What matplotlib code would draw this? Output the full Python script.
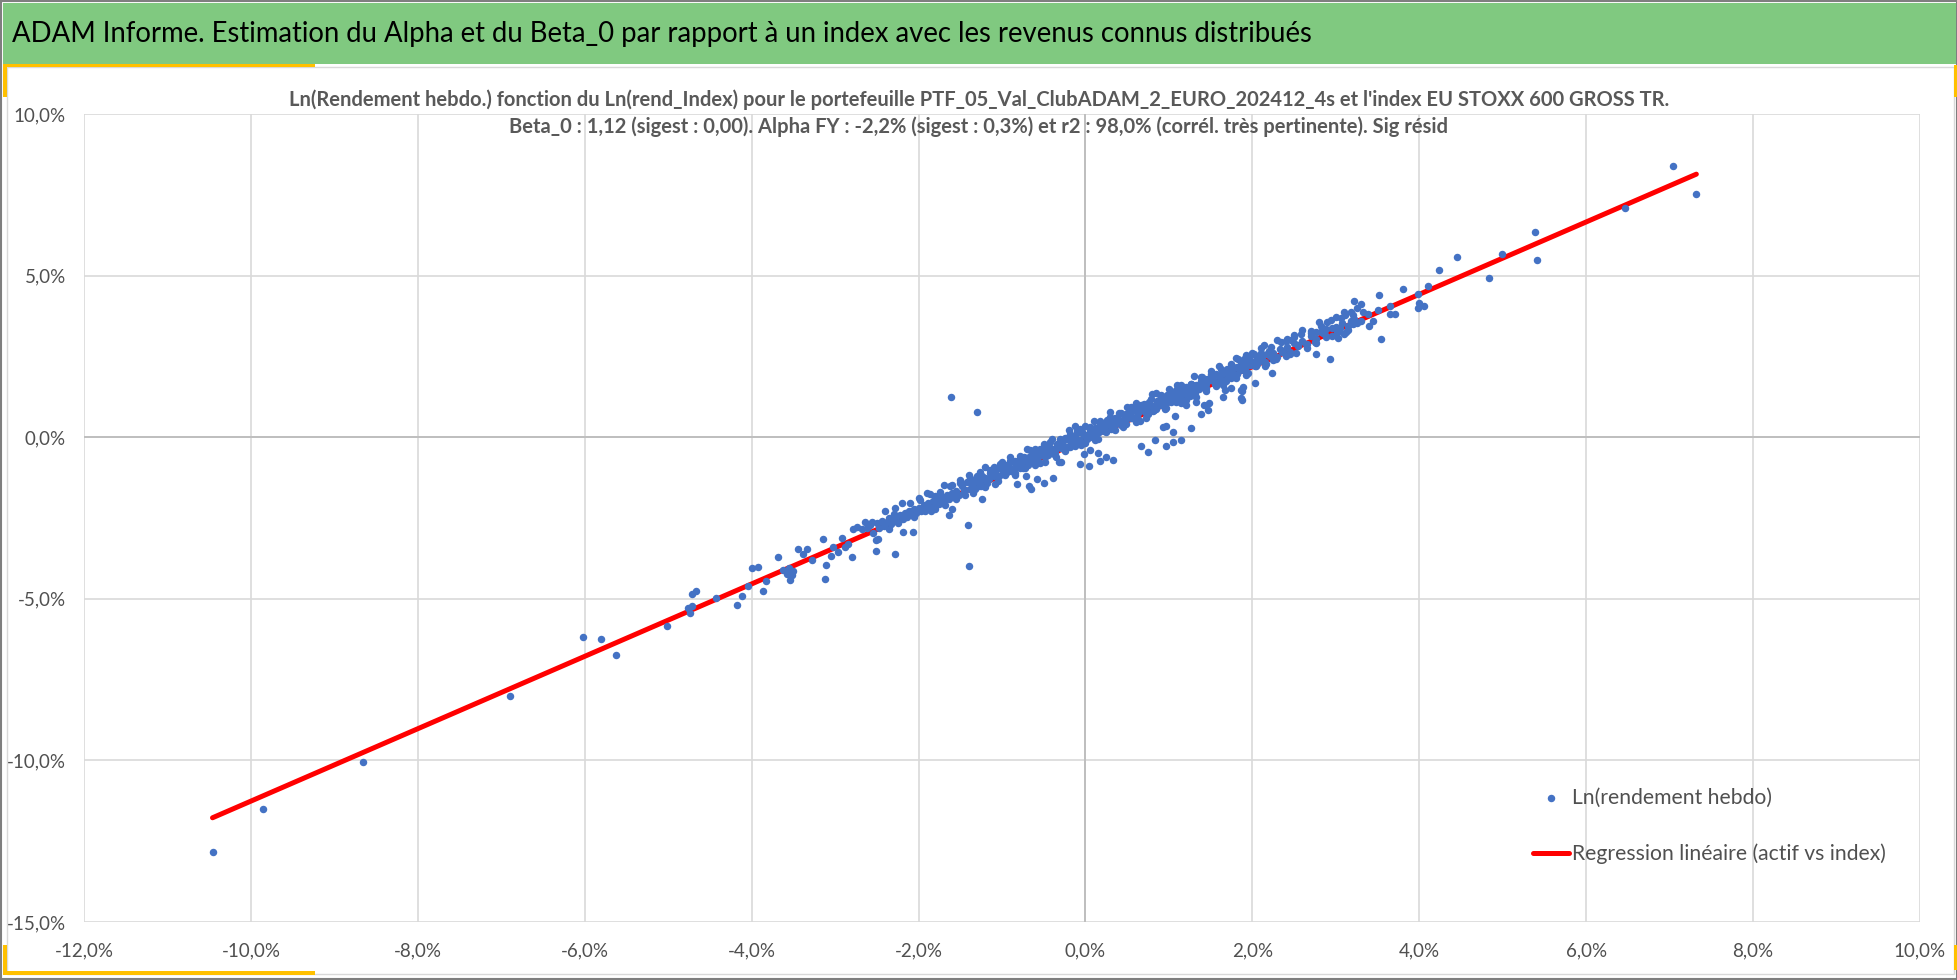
import numpy as np
import matplotlib
matplotlib.use("Agg")
import matplotlib.pyplot as plt
from matplotlib.patches import Rectangle
from matplotlib.ticker import FuncFormatter, MultipleLocator

plt.rcParams['font.family'] = ['Lato', 'DejaVu Sans']

W, H = 1958, 980

# weekly log returns (%): index (x) vs portfolio (y)
# dense core of the cloud
core_pts = [
    (-1.48, -1.51), (-1.44, -1.64), (-1.40, -1.35), (-1.36, -1.47), (-1.32, -1.36),
    (-1.28, -1.50), (-1.24, -1.20), (-1.20, -1.27), (-1.16, -1.30), (-1.12, -1.08),
    (-1.08, -1.06), (-1.04, -1.20), (-1.00, -0.90), (-0.96, -1.03), (-0.92, -0.91),
    (-0.88, -1.06), (-0.84, -0.75), (-0.80, -0.83), (-0.76, -0.85), (-0.72, -0.64),
    (-0.68, -0.61), (-0.64, -0.75), (-0.60, -0.45), (-0.56, -0.58), (-0.52, -0.46),
    (-0.48, -0.61), (-0.44, -0.30), (-0.40, -0.38), (-0.36, -0.40), (-0.32, -0.19),
    (-0.28, -0.16), (-0.24, -0.30), (-0.20, 0.00), (-0.16, -0.13), (-0.12, -0.01),
    (-0.08, -0.16), (-0.04, 0.15), (0.00, 0.07), (0.04, 0.05), (0.08, 0.26),
    (0.12, 0.28), (0.16, 0.15), (0.20, 0.44), (0.24, 0.32), (0.28, 0.43),
    (0.32, 0.29), (0.36, 0.59), (0.40, 0.52), (0.44, 0.49), (0.48, 0.71),
    (0.52, 0.73), (0.56, 0.60), (0.60, 0.89), (0.64, 0.77), (0.68, 0.88),
    (0.72, 0.74), (0.76, 1.04), (0.80, 0.97), (0.84, 0.94), (0.88, 1.16),
    (0.92, 1.18), (0.96, 1.05), (1.00, 1.34), (1.04, 1.22), (1.08, 1.33),
    (1.12, 1.18), (1.16, 1.49), (1.20, 1.41), (1.24, 1.39), (1.28, 1.60),
    (1.32, 1.63), (1.36, 1.49), (1.40, 1.79), (1.44, 1.66), (1.48, 1.78),
    (-1.46, -1.62), (-1.42, -1.39), (-1.38, -1.60), (-1.34, -1.40), (-1.30, -1.21),
    (-1.26, -1.42), (-1.22, -1.29), (-1.18, -1.41), (-1.14, -1.12), (-1.10, -1.19),
    (-1.06, -1.17), (-1.02, -0.94), (-0.98, -1.15), (-0.94, -0.95), (-0.90, -0.76),
    (-0.86, -0.97), (-0.82, -0.84), (-0.78, -0.96), (-0.74, -0.67), (-0.70, -0.74),
    (-0.66, -0.72), (-0.62, -0.49), (-0.58, -0.70), (-0.54, -0.50), (-0.50, -0.31),
    (-0.46, -0.53), (-0.42, -0.39), (-0.38, -0.52), (-0.34, -0.22), (-0.30, -0.30),
    (-0.26, -0.27), (-0.22, -0.05), (-0.18, -0.25), (-0.14, -0.06), (-0.10, 0.14),
    (-0.06, -0.08), (-0.02, 0.06), (0.02, -0.07), (0.06, 0.23), (0.10, 0.15),
    (0.14, 0.18), (0.18, 0.40), (0.22, 0.20), (0.26, 0.39), (0.30, 0.59),
    (0.34, 0.37), (0.38, 0.51), (0.42, 0.38), (0.46, 0.68), (0.50, 0.60),
    (0.54, 0.63), (0.58, 0.85), (0.62, 0.65), (0.66, 0.84), (0.70, 1.03),
    (0.74, 0.82), (0.78, 0.95), (0.82, 0.83), (0.86, 1.12), (0.90, 1.05),
    (0.94, 1.07), (0.98, 1.30), (1.02, 1.09), (1.06, 1.29), (1.10, 1.48),
    (1.14, 1.27), (1.18, 1.40), (1.22, 1.28), (1.26, 1.57), (1.30, 1.50),
    (1.34, 1.52), (1.38, 1.75), (1.42, 1.54), (1.46, 1.74),
]

# wider spread of the band (-2% .. 3.2%)
wide_band_pts = [
    (-1.98, -1.93), (-1.92, -2.28), (-1.86, -1.75), (-1.80, -2.21), (-1.74, -1.70),
    (-1.68, -2.11), (-1.62, -1.50), (-1.56, -1.83), (-1.50, -1.41), (-1.44, -1.78),
    (-1.38, -1.26), (-1.32, -1.61), (-1.26, -1.08), (-1.20, -1.53), (-1.14, -1.03),
    (-1.08, -1.44), (-1.02, -0.83), (-0.96, -1.16), (-0.90, -0.74), (-0.84, -1.11),
    (-0.78, -0.58), (-0.72, -0.94), (-0.66, -0.41), (-0.60, -0.86), (-0.54, -0.36),
    (-0.48, -0.77), (-0.42, -0.16), (-0.36, -0.48), (-0.30, -0.07), (-0.24, -0.44),
    (-0.18, 0.09), (-0.12, -0.26), (-0.06, 0.26), (0.00, -0.19), (0.06, 0.32),
    (0.12, -0.10), (0.18, 0.51), (0.24, 0.19), (0.30, 0.61), (0.36, 0.23),
    (0.42, 0.76), (0.48, 0.41), (0.54, 0.94), (0.60, 0.48), (0.66, 0.99),
    (0.72, 0.58), (0.78, 1.18), (0.84, 0.86), (0.90, 1.28), (0.96, 0.91),
    (1.02, 1.43), (1.08, 1.08), (1.14, 1.61), (1.20, 1.15), (1.26, 1.66),
    (1.32, 1.25), (1.38, 1.86), (1.44, 1.53), (1.50, 1.95), (1.56, 1.58),
    (1.62, 2.10), (1.68, 1.75), (1.74, 2.28), (1.80, 1.83), (1.86, 2.33),
    (1.92, 1.92), (1.98, 2.53), (2.04, 2.21), (2.10, 2.62), (2.16, 2.25),
    (2.22, 2.78), (2.28, 2.42), (2.34, 2.95), (2.40, 2.50), (2.46, 3.01),
    (2.52, 2.59), (2.58, 3.20), (2.64, 2.88), (2.70, 3.29), (2.76, 2.92),
    (2.82, 3.45), (2.88, 3.10), (2.94, 3.62), (3.00, 3.17), (3.06, 3.68),
    (3.12, 3.26), (3.18, 3.87), (3.24, 3.55),
    (-0.99, -1.04), (-0.94, -0.86), (-0.89, -1.05), (-0.84, -0.81), (-0.79, -0.88),
    (-0.74, -0.60), (-0.69, -0.86), (-0.64, -0.62), (-0.59, -0.68), (-0.54, -0.45),
    (-0.49, -0.48), (-0.44, -0.30), (-0.39, -0.49), (-0.34, -0.25), (-0.29, -0.32),
    (-0.24, -0.04), (-0.19, -0.30), (-0.14, -0.06), (-0.09, -0.12), (-0.04, 0.12),
    (0.01, 0.08), (0.06, 0.26), (0.11, 0.07), (0.16, 0.31), (0.21, 0.25),
    (0.26, 0.52), (0.31, 0.26), (0.36, 0.50), (0.41, 0.44), (0.46, 0.68),
    (0.51, 0.64), (0.56, 0.82), (0.61, 0.63), (0.66, 0.87), (0.71, 0.81),
    (0.76, 1.08), (0.81, 0.82), (0.86, 1.06), (0.91, 1.00), (0.96, 1.24),
    (1.01, 1.20), (1.06, 1.38), (1.11, 1.19), (1.16, 1.43), (1.21, 1.37),
    (1.26, 1.64), (1.31, 1.38), (1.36, 1.62), (1.41, 1.56), (1.46, 1.80),
    (1.51, 1.76), (1.56, 1.94), (1.61, 1.75), (1.66, 1.99), (1.71, 1.93),
    (1.76, 2.20), (1.81, 1.94), (1.86, 2.18), (1.91, 2.12), (1.96, 2.36),
]

# outer edges of the band (-2.4% .. 3.3%)
edge_band_pts = [
    (-2.40, -2.29), (-2.35, -2.85), (-2.30, -2.38), (-2.25, -2.64), (-2.20, -2.03),
    (-2.15, -2.39), (-2.10, -2.05), (-2.05, -2.48), (-2.00, -1.88), (-1.95, -2.22),
    (-1.90, -1.73), (-1.85, -2.29), (-1.80, -1.82), (-1.75, -2.08), (-1.70, -1.47),
    (-1.65, -1.83), (-1.60, -1.49), (-1.55, -1.92), (-1.50, -1.32), (-1.45, -1.66),
    (-1.40, -1.17), (-1.35, -1.73), (-1.30, -1.26), (-1.25, -1.52), (-1.20, -0.91),
    (-1.15, -1.27), (-1.10, -0.93), (-1.05, -1.36), (-1.00, -0.76), (-0.95, -1.10),
    (-0.90, -0.61), (-0.85, -1.17), (-0.80, -0.70), (-0.75, -0.96), (-0.70, -0.35),
    (-0.65, -0.71), (-0.60, -0.37), (-0.55, -0.80), (-0.50, -0.20), (-0.45, -0.54),
    (-0.40, -0.05), (-0.35, -0.61), (-0.30, -0.14), (-0.25, -0.40), (-0.20, 0.21),
    (-0.15, -0.15), (-0.10, 0.19), (-0.05, -0.24), (0.00, 0.36), (0.05, 0.02),
    (0.10, 0.51), (0.15, -0.05), (0.20, 0.42), (0.25, 0.16), (0.30, 0.77),
    (0.35, 0.41), (0.40, 0.75), (0.45, 0.32), (0.50, 0.92), (0.55, 0.58),
    (0.60, 1.07), (0.65, 0.51), (0.70, 0.98), (0.75, 0.72), (0.80, 1.33),
    (0.85, 0.97), (0.90, 1.31), (0.95, 0.88), (1.00, 1.48), (1.05, 1.14),
    (1.10, 1.63), (1.15, 1.07), (1.20, 1.54), (1.25, 1.28), (1.30, 1.89),
    (1.35, 1.53), (1.40, 1.87), (1.45, 1.44), (1.50, 2.04), (1.55, 1.70),
    (1.60, 2.19), (1.65, 1.63), (1.70, 2.10), (1.75, 1.84), (1.80, 2.45),
    (1.85, 2.09), (1.90, 2.43), (1.95, 2.00), (2.00, 2.60), (2.05, 2.26),
    (2.10, 2.75), (2.15, 2.19), (2.20, 2.66), (2.25, 2.40), (2.30, 3.01),
    (2.35, 2.65), (2.40, 2.99), (2.45, 2.56), (2.50, 3.16), (2.55, 2.82),
    (2.60, 3.31), (2.65, 2.75), (2.70, 3.22), (2.75, 2.96), (2.80, 3.57),
    (2.85, 3.21), (2.90, 3.55), (2.95, 3.12), (3.00, 3.72), (3.05, 3.38),
    (3.10, 3.87), (3.15, 3.31), (3.20, 3.78), (3.25, 3.52), (3.30, 4.13),
]

# lower part of the band (-2.6% .. -1.5%)
low_band_pts = [
    (-2.62, -2.80), (-2.58, -2.71), (-2.55, -2.95), (-2.50, -2.66), (-2.47, -2.80),
    (-2.44, -2.58), (-2.41, -2.74), (-2.38, -2.62), (-2.35, -2.49), (-2.33, -2.70),
    (-2.30, -2.55), (-2.27, -2.43), (-2.25, -2.62), (-2.22, -2.40), (-2.19, -2.52),
    (-2.16, -2.35), (-2.14, -2.47), (-2.11, -2.28), (-2.08, -2.40), (-2.05, -2.22),
    (-2.03, -2.34), (-2.00, -2.18), (-1.97, -2.29), (-1.94, -2.10), (-1.92, -2.20),
    (-1.89, -2.05), (-1.86, -2.16), (-1.83, -1.98), (-1.80, -2.09), (-1.78, -1.93),
    (-1.75, -2.02), (-1.72, -1.86), (-1.69, -1.97), (-1.66, -1.80), (-1.63, -1.90),
    (-1.60, -1.74), (-1.57, -1.85), (-1.55, -1.68), (-1.52, -1.79),
]

# upper part of the band (1.5% .. 3.4%)
up_band_pts = [
    (1.52, 1.80), (1.55, 1.66), (1.58, 1.93), (1.61, 1.82), (1.64, 1.95),
    (1.67, 1.78), (1.70, 2.03), (1.73, 1.96), (1.76, 2.07), (1.79, 1.92),
    (1.82, 2.17), (1.85, 2.09), (1.88, 2.19), (1.91, 2.05), (1.94, 2.31),
    (1.97, 2.22), (2.00, 2.33), (2.03, 2.20), (2.06, 2.45), (2.09, 2.37),
    (2.12, 2.48), (2.15, 2.32), (2.18, 2.58), (2.21, 2.50), (2.25, 2.60),
    (2.29, 2.47), (2.33, 2.73), (2.37, 2.66), (2.41, 2.80), (2.45, 2.64),
    (2.50, 2.93), (2.55, 2.85), (2.60, 2.99), (2.65, 2.88), (2.70, 3.12),
    (2.76, 3.03), (2.82, 3.25), (2.88, 3.14), (2.95, 3.38), (3.02, 3.30),
    (3.08, 3.52), (3.15, 3.45), (3.22, 3.66), (3.30, 3.58), (3.38, 3.80),
]

# scattered weeks around and off the band
scatter_pts = [
    (-10.46, -12.82), (-9.86, -11.49), (-8.66, -10.06), (-6.90, -8.02),
    (-6.02, -6.19), (-5.80, -6.25), (-5.62, -6.75), (-5.01, -5.85),
    (-4.76, -5.27), (-4.74, -5.45), (-4.72, -4.84), (-4.72, -5.22), (-4.67, -4.76),
    (-4.43, -4.99), (-4.18, -5.19), (-4.11, -4.92), (-4.04, -4.60), (-4.00, -4.06),
    (-3.92, -4.03), (-3.86, -4.76), (-3.83, -4.44), (-3.68, -3.70), (-3.62, -4.10),
    (-3.58, -4.22), (-3.55, -4.05), (-3.54, -4.42), (-3.52, -4.25), (-3.50, -4.15),
    (-3.45, -3.45), (-3.39, -3.60), (-3.34, -3.45), (-3.28, -3.79), (-3.14, -3.16),
    (-3.12, -4.38), (-3.11, -3.94), (-3.05, -3.68), (-3.02, -3.40), (-2.96, -3.55),
    (-2.92, -3.12), (-2.88, -3.40), (-2.85, -3.30), (-2.80, -3.70), (-2.78, -2.83),
    (-2.74, -2.78), (-2.68, -2.83), (-2.64, -2.63), (-2.56, -2.63), (-2.51, -3.19),
    (-2.49, -3.15), (-2.51, -3.52), (-2.28, -3.62), (-2.28, -2.18), (-2.19, -2.93),
    (-2.07, -2.93), (-1.64, -2.41), (-1.60, -2.21),
    (-1.61, 1.24), (-1.30, 0.77), (-1.41, -2.73), (-1.40, -3.98), (-1.24, -1.91),
    (-0.39, -1.25), (-0.50, -1.42), (-0.65, -1.59), (-0.68, -1.52), (-0.82, -1.44),
    (-0.58, -1.28), (-0.71, -1.21), (-0.29, -0.77), (-0.32, -0.77), (-0.12, 0.34),
    (0.33, -0.71), (0.25, -0.61), (0.17, -0.74), (0.15, -0.50), (0.06, -0.40),
    (0.04, -0.88), (-0.06, -0.83), (-0.02, -0.51), (0.67, -0.27), (0.75, -0.47),
    (0.83, -0.08), (0.96, -0.28), (1.05, -0.16), (1.14, -0.10), (0.93, 0.32),
    (0.97, 0.34), (1.05, 0.15), (1.26, 0.27), (1.07, 0.65), (1.38, 0.73),
    (1.42, 1.00), (1.47, 0.85), (0.85, 1.38), (1.21, 0.99), (1.32, 1.10),
    (1.48, 1.05), (1.65, 1.25), (1.67, 1.45), (1.75, 1.52), (1.86, 1.45),
    (1.89, 1.56), (1.88, 1.14), (1.86, 1.20), (1.88, 1.42), (2.03, 1.67),
    (2.24, 1.98), (1.92, 2.54), (2.02, 2.58), (1.83, 2.43), (2.14, 2.85),
    (2.76, 2.57), (2.93, 2.41), (2.50, 3.10), (2.42, 3.05), (2.76, 3.25),
    (2.84, 3.30), (2.88, 3.36), (3.00, 3.40), (3.04, 3.30), (3.10, 3.20),
    (3.03, 3.08), (3.11, 3.78), (3.18, 3.60), (3.20, 3.50), (3.22, 4.21),
    (3.25, 4.00), (3.32, 3.86), (3.40, 3.45), (3.45, 3.58), (3.51, 3.93),
    (3.52, 4.40), (3.54, 3.03), (3.65, 4.06), (3.65, 3.82), (3.71, 3.82),
    (3.80, 4.59), (3.98, 4.44), (3.98, 4.00), (4.00, 4.15), (4.06, 4.05),
    (4.11, 4.67), (4.24, 5.18), (4.45, 5.57), (4.84, 4.92), (4.99, 5.67),
    (5.39, 6.35), (5.41, 5.48), (6.47, 7.09), (7.04, 8.39), (7.32, 7.52),
]

beta_0 = 1.12
intercept = -0.06   # % per week

main_title = ("ADAM Informe. Estimation du Alpha et du Beta_0 par rapport à un index "
              "avec les revenus connus distribués")
chart_title_1 = ("Ln(Rendement hebdo.) fonction du Ln(rend_Index) pour le portefeuille "
                 "PTF_05_Val_ClubADAM_2_EURO_202412_4s et l'index EU STOXX 600 GROSS TR.")
chart_title_2 = ("Beta_0 : 1,12 (sigest : 0,00). Alpha FY : -2,2% (sigest : 0,3%) et "
                 "r2 : 98,0% (corrél. très pertinente). Sig résid")
label_pts = "Ln(rendement hebdo)"
label_reg = "Regression linéaire (actif vs index)"

pts = np.array(core_pts + wide_band_pts + edge_band_pts + low_band_pts
               + up_band_pts + scatter_pts)
x_idx = pts[:, 0]
y_ptf = pts[:, 1]

TXT = '#505050'


def fx(px):
    return px / W


def fy(py):
    return 1 - py / H


def rect(x0, y0, x1, y1, **kw):
    fig.add_artist(Rectangle((fx(x0), fy(y1)), fx(x1) - fx(x0), fy(y0) - fy(y1),
                             transform=fig.transFigure, zorder=-5, **kw))


fig = plt.figure(figsize=(W / 100, H / 100), dpi=100)
fig.patch.set_facecolor('white')

# frame, green header and yellow accents
rect(1, 1, 1957, 979, facecolor='none', edgecolor='#7f7f7f', linewidth=1.5)
rect(3, 3, 1956, 64, facecolor='#80c980', edgecolor='none')
rect(7, 67, 1954, 974, facecolor='white', edgecolor='#d9d9d9', linewidth=1)
rect(3, 64, 315, 67, facecolor='#ffc000', edgecolor='none')
rect(3, 64, 7, 97, facecolor='#ffc000', edgecolor='none')
rect(3, 971, 315, 975, facecolor='#ffc000', edgecolor='none')
rect(3, 945, 7, 975, facecolor='#ffc000', edgecolor='none')
rect(1954, 65, 1957, 97, facecolor='#ffc000', edgecolor='none')
rect(1954, 945, 1957, 970, facecolor='#ffc000', edgecolor='none')

fig.text(fx(12), fy(34), main_title, ha='left', va='center', fontsize=19.8, color='black')

ax = fig.add_axes([fx(84), fy(922), fx(1920) - fx(84), fy(114) - fy(922)])
ax.patch.set_alpha(0)
ax.set_xlim(-12, 10)
ax.set_ylim(-15, 10)
ax.xaxis.set_major_locator(MultipleLocator(2))
ax.yaxis.set_major_locator(MultipleLocator(5))
pct = FuncFormatter(lambda v, p: f"{v:.1f}%".replace('.', ','))
ax.xaxis.set_major_formatter(pct)
ax.yaxis.set_major_formatter(pct)
ax.grid(True, color='#d9d9d9', linewidth=1.2)
ax.set_axisbelow(True)
for s in ax.spines.values():
    s.set_visible(False)
ax.axhline(0, color='#bfbfbf', linewidth=1.4, zorder=1)
ax.axvline(0, color='#bfbfbf', linewidth=1.4, zorder=1)
ax.tick_params(length=0, labelsize=13.5, labelcolor=TXT)
ax.tick_params(axis='x', pad=15)
ax.tick_params(axis='y', pad=13)

line_x = np.array([x_idx.min(), x_idx.max()])
ax.plot(line_x, beta_0 * line_x + intercept, color='#ff0000', linewidth=3.6,
        solid_capstyle='round', zorder=3, label=label_reg)
ax.scatter(x_idx, y_ptf, s=29, color='#4472c4', linewidths=0, zorder=4, label=label_pts)

fig.text(fx(979), fy(100), chart_title_1, ha='center', va='center', fontsize=14.5,
         fontweight='bold', color='#595959')
fig.text(fx(979), fy(127), chart_title_2, ha='center', va='center', fontsize=14.5,
         fontweight='bold', color='#595959')

handles, labels = ax.get_legend_handles_labels()
ax.legend(handles[::-1], labels[::-1], loc='center left',
          bbox_to_anchor=(fx(1533), fy(826)),
          bbox_transform=fig.transFigure, frameon=False, fontsize=15.2,
          labelcolor=TXT, borderpad=0, borderaxespad=0,
          handlelength=1.7, handletextpad=0.15, labelspacing=1.7,
          scatterpoints=1, markerscale=1.0)

fig.savefig('out.png', dpi=100)
